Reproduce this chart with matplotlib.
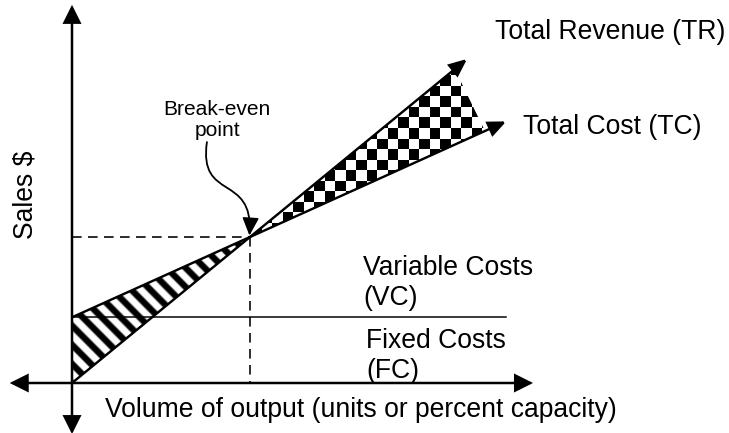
import numpy as np
import matplotlib.pyplot as plt
from matplotlib.patches import Polygon, FancyArrowPatch
from matplotlib.path import Path

plt.rcParams['font.family'] = ['Liberation Sans', 'DejaVu Sans']

# break-even model (output in units, sales in $)
fixed_cost = 45
price = 1.0
unit_var_cost = 0.55
break_even_q = fixed_cost / (price - unit_var_cost)   # 100 units
break_even_s = price * break_even_q                  # $100

# how far each line is drawn (units of output)
tr_end_q = 222
tc_end_q = 244
fc_end_q = 244
profit_top_q = 215      # where the checkered profit area stops on TR
profit_bottom_q = 232   # ... and on TC
axis_min, axis_max = -35, 259

# pixels per data unit (figure is drawn at 72 dpi)
px_q, px_s = 1.78, 1.46


def revenue(q):
    return price * q


def total_cost(q):
    return fixed_cost + unit_var_cost * q


fig = plt.figure(figsize=(729 / 72, 433 / 72), dpi=72)
ax = fig.add_axes([0, 0, 1, 1])
ax.set_axis_off()

# loss area (between TC and TR before break-even), diagonal stripes
loss = Polygon([(0, revenue(0)), (0, total_cost(0)), (break_even_q, break_even_s)],
               closed=True, facecolor='none', edgecolor='none')
ax.add_patch(loss)
w = int(break_even_q * px_q) + 2
h = int(break_even_s * px_s) + 2
rows, cols = np.indices((h, w))
u = (cols + 0.5) + (rows + 0.5)
wave = np.cos(2 * np.pi * u / 19.0)
stripes = 1 - np.clip(wave * 1.5 + 0.4, 0, 1)
im1 = ax.imshow(stripes, cmap='gray', vmin=0, vmax=1, interpolation='bilinear',
                aspect='auto', origin='lower',
                extent=[0, w / px_q, 0, h / px_s])
im1.set_clip_path(loss)

# profit area, checkered
profit = Polygon([(break_even_q, break_even_s),
                  (profit_top_q, revenue(profit_top_q)),
                  (profit_bottom_q, total_cost(profit_bottom_q))],
                 closed=True, facecolor='none', edgecolor='none')
ax.add_patch(profit)
cell = 10.5
nq, ns = 26, 20
yy, xx = np.indices((ns, nq))
board = (xx + yy) % 2
im2 = ax.imshow(board, cmap='gray', interpolation='nearest', aspect='auto',
                origin='lower',
                extent=[95, 95 + nq * cell / px_q, 95, 95 + ns * cell / px_s])
im2.set_clip_path(profit)


def arrow(p0, p1, style, lw):
    a = FancyArrowPatch(p0, p1, arrowstyle=style, mutation_scale=1,
                        shrinkA=0, shrinkB=0, color='black', linewidth=lw,
                        joinstyle='miter', capstyle='butt')
    ax.add_patch(a)


# axes
arrow((axis_min, 0), (axis_max, 0), '<|-|>,head_length=15,head_width=7.5', 2.5)
arrow((0, axis_min), (0, axis_max), '<|-|>,head_length=15,head_width=7.5', 2.5)

# fixed cost line
ax.plot([0, fc_end_q], [fixed_cost, fixed_cost], color='black', linewidth=1.5)

# TR and TC
arrow((0, revenue(0)), (tr_end_q, revenue(tr_end_q)),
      '-|>,head_length=15,head_width=6.5', 2.4)
arrow((0, total_cost(0)), (tc_end_q, total_cost(tc_end_q)),
      '-|>,head_length=15,head_width=6.5', 2.4)

# dashed guides to break-even
ax.plot([0, break_even_q], [break_even_s, break_even_s], color='black',
        linewidth=1.6, dashes=(6, 4))
ax.plot([break_even_q, break_even_q], [break_even_s, 0], color='black',
        linewidth=1.6, dashes=(6, 4))

# curved pointer to break-even
verts = [(break_even_q - 24.2, break_even_s + 65),
         (break_even_q - 29, break_even_s + 24),
         (break_even_q + 2, break_even_s + 44),
         (break_even_q - 0.3, break_even_s + 1)]
curve = FancyArrowPatch(path=Path(verts, [Path.MOVETO, Path.CURVE4, Path.CURVE4, Path.CURVE4]),
                        arrowstyle='-|>,head_length=15,head_width=7', mutation_scale=1,
                        color='black', linewidth=1.8)
ax.add_patch(curve)

fs = 26.5
ax.text(237.6, 240.4, 'Total Revenue (TR)', fontsize=fs, va='center', ha='left')
ax.text(253.4, 175.3, 'Total Cost (TC)', fontsize=fs, va='center', ha='left')
ax.text(163.5, 68.8, 'Variable Costs\n(VC)', fontsize=fs, va='center', ha='left',
        linespacing=1.2)
ax.text(165.2, 18.8, 'Fixed Costs\n(FC)', fontsize=fs, va='center', ha='left',
        linespacing=1.2)
ax.text(18.5, -18.5, 'Volume of output (units or percent capacity)', fontsize=fs,
        va='center', ha='left')
ax.text(-26.4, 128.8, 'Sales $', fontsize=fs, va='center', ha='center', rotation=90)
ax.text(81.5, 180.1, 'Break-even\npoint', fontsize=21, va='center', ha='center',
        linespacing=1.15)

ax.set_xlim(-72 / px_q, 657 / px_q)
ax.set_ylim(-50 / px_s, 383 / px_s)

fig.savefig('out.png', dpi=72)
